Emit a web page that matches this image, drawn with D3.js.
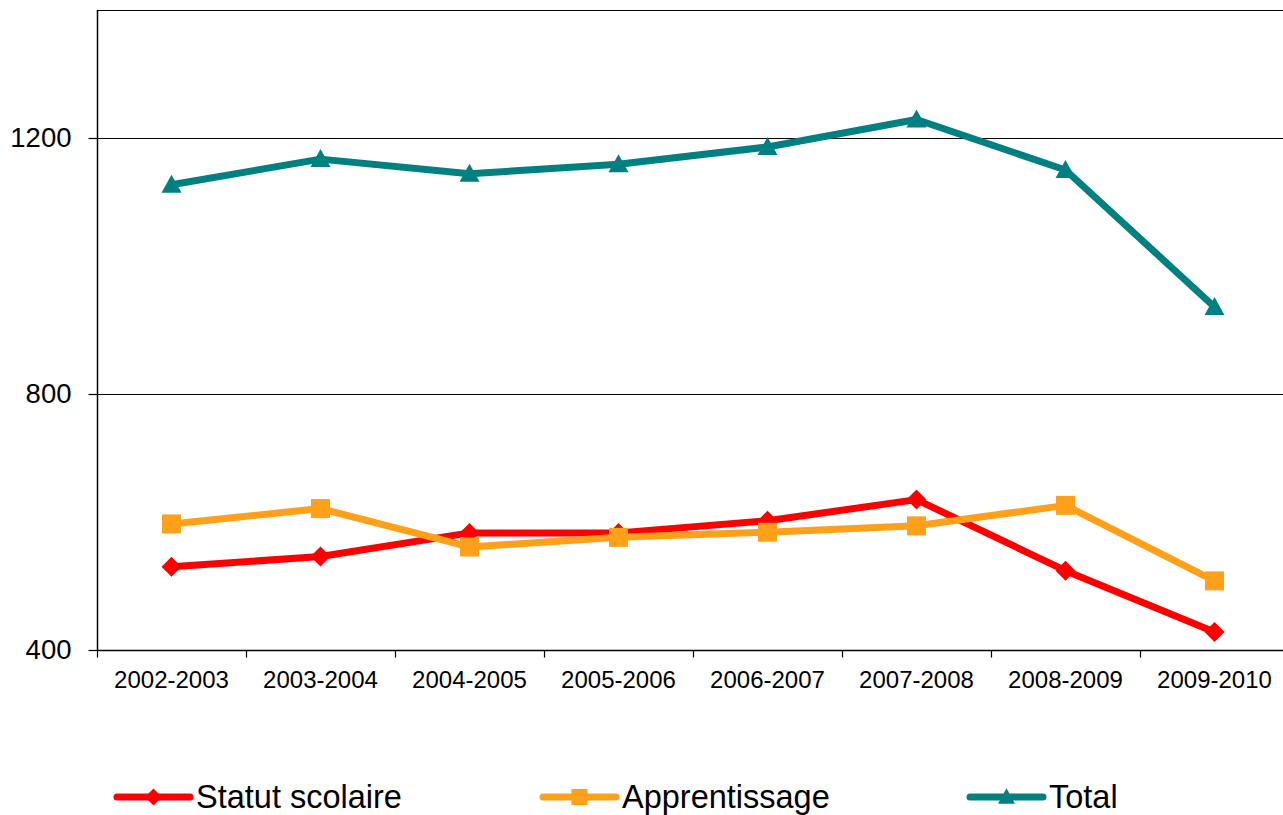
<!DOCTYPE html>
<html>
<head>
<meta charset="utf-8">
<script src="https://cdn.jsdelivr.net/npm/d3@7"></script>
<style>
  body { margin: 0; background: #fff; }
  svg { display: block; font-family: "Liberation Sans", Arial, sans-serif; }
</style>
</head>
<body>
<div id="chartDiv"></div>
<script>
var years = ["2002-2003", "2003-2004", "2004-2005", "2005-2006", "2006-2007", "2007-2008", "2008-2009", "2009-2010"];
var statutScolaire = [530, 546, 583, 583, 602, 635, 524, 428];
var apprentissage = [597, 621, 561, 576, 584, 594, 626, 508];
var total = [1127, 1167, 1144, 1159, 1186, 1229, 1150, 936];
var yTicks = [400, 800, 1200];
var seriesNames = ["Statut scolaire", "Apprentissage", "Total"];

;(function() {

	var width = 1283;
	var height = 815;
	var margin = { top: 10, left: 97 };
	var step = 149;

	var series = [
		{ name: seriesNames[0], values: statutScolaire, color: "#ff0000", marker: "diamond" },
		{ name: seriesNames[1], values: apprentissage, color: "#ffa01a", marker: "square" },
		{ name: seriesNames[2], values: total, color: "#008080", marker: "triangle" }
	];

	var chart = d3.select("#chartDiv").append("svg")
		.attr("width", width)
		.attr("height", height);

	var xScale = d3.scaleBand()
		.domain(years)
		.range([margin.left, margin.left + step * years.length]);

	var yScale = d3.scaleLinear()
		.domain([400, 1400])
		.range([650, margin.top]);

	// marker shapes
	function markerPath(type, s) {
		if (type == "diamond") {
			var r = 10 * s;
			return "M0," + (-r) + "L" + r + ",0L0," + r + "L" + (-r) + ",0Z";
		}
		if (type == "square") {
			var h = 9.5 * s;
			return "M" + (-h) + "," + (-h) + "H" + h + "V" + h + "H" + (-h) + "Z";
		}
		var w = 10 * s, t = 9 * s;
		return "M0," + (-t - 1) + "L" + w + "," + (t - 1) + "L" + (-w) + "," + (t - 1) + "Z";
	}

	// gridlines + top border
	chart.append("g").selectAll("line")
		.data([800, 1200, 1400])
		.enter().append("line")
		.attr("x1", margin.left)
		.attr("x2", width)
		.attr("y1", function(d) { return Math.round(yScale(d)) + 0.5; })
		.attr("y2", function(d) { return Math.round(yScale(d)) + 0.5; })
		.attr("stroke", "#000")
		.attr("stroke-width", 1.2);

	// y axis
	var yAxis = d3.axisLeft(yScale).tickValues(yTicks).tickSize(9).tickPadding(17).tickFormat(d3.format("d"));
	var yG = chart.append("g")
		.attr("transform", "translate(" + (margin.left + 0.5) + ",0)")
		.call(yAxis);
	yG.select(".domain").attr("stroke", "#000").attr("stroke-width", 1.5).attr("d", "M0," + yScale(1400) + "V" + yScale(400));
	yG.selectAll(".tick line").attr("stroke", "#000").attr("stroke-width", 1.2);
	yG.selectAll("text").style("font-size", "27.5px").attr("fill", "#000").attr("font-family", "Liberation Sans, Arial, sans-serif");

	// x axis
	var xAxis = d3.axisBottom(xScale).tickSize(0).tickPadding(20);
	var xG = chart.append("g")
		.attr("transform", "translate(0," + (yScale(400) + 0.5) + ")")
		.call(xAxis);
	xG.select(".domain").attr("stroke", "#000").attr("stroke-width", 1.5).attr("d", "M" + margin.left + ",0H" + width);
	xG.selectAll("text").style("font-size", "24px").attr("fill", "#000").attr("font-family", "Liberation Sans, Arial, sans-serif");
	xG.selectAll(".boundary").data(years)
		.enter().append("line")
		.attr("x1", function(d) { return xScale(d) + 0.5; })
		.attr("x2", function(d) { return xScale(d) + 0.5; })
		.attr("y1", 0).attr("y2", 7)
		.attr("stroke", "#000").attr("stroke-width", 1.2);

	// lines and markers
	var line = d3.line()
		.x(function(d, i) { return xScale(years[i]) + xScale.bandwidth() / 2; })
		.y(function(d) { return yScale(d); });

	series.forEach(function(s) {
		var g = chart.append("g");
		g.append("path")
			.attr("d", line(s.values))
			.attr("fill", "none")
			.attr("stroke", s.color)
			.attr("stroke-width", 7)
			.attr("stroke-linejoin", "round");
		g.selectAll(".mk").data(s.values)
			.enter().append("path")
			.attr("transform", function(d, i) { return "translate(" + (xScale(years[i]) + xScale.bandwidth() / 2) + "," + yScale(d) + ")"; })
			.attr("d", markerPath(s.marker, 1))
			.attr("fill", s.color);
	});

	// legend
	var legendX = [117, 543, 970];
	var legend = chart.append("g").selectAll("g")
		.data(series)
		.enter().append("g")
		.attr("transform", function(d, i) { return "translate(" + legendX[i] + ",797)"; });
	legend.append("line")
		.attr("x1", 0).attr("x2", 73)
		.attr("stroke", function(d) { return d.color; })
		.attr("stroke-width", 7)
		.attr("stroke-linecap", "round");
	legend.append("path")
		.attr("transform", "translate(36.5,0)")
		.attr("d", function(d) { return markerPath(d.marker, 0.85); })
		.attr("fill", function(d) { return d.color; });
	legend.append("text")
		.attr("x", 79)
		.attr("y", 11)
		.style("font-size", "32.5px")
		.attr("fill", "#000")
		.text(function(d) { return d.name; });

})();
</script>
</body>
</html>
